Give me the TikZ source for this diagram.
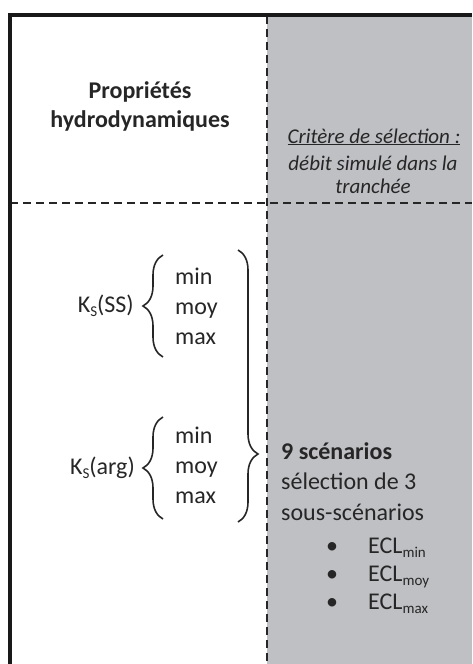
\documentclass[tikz,border=0pt]{standalone}
\usepackage{fontspec}
\setmainfont{Carlito}
\usetikzlibrary{decorations.pathreplacing}
\definecolor{panelgray}{HTML}{BFC0C4}
\definecolor{ink}{HTML}{262626}
\newcommand\mysub[1]{\raisebox{-0.35ex}{\fontsize{15}{15}\selectfont #1}}
\begin{document}
\begin{tikzpicture}[x=1pt,y=-1pt,
  txt/.style={inner sep=0pt, text=ink, font=\fontsize{24}{29}\selectfont},
  ital/.style={inner sep=0pt, text=ink, font=\fontsize{21}{26}\selectfont\itshape},
  bracestyle/.style={draw=ink, line width=1.6pt, decorate},
  dashline/.style={draw=ink, line width=2pt, dash pattern=on 8pt off 5pt},
  frame/.style={draw=black!90, line width=4pt}]
\useasboundingbox (0,0) rectangle (472,664);
\fill[panelgray] (267,14) rectangle (472,664);
% dashed dividers
\draw[dashline] (10,202.5) -- (472,202.5);
\draw[dashline] (267,16) -- (267,664);
% frame
\draw[frame] (10,664) -- (10,14.5) -- (472,14.5);
% header
\node[txt, anchor=base, font=\fontsize{24}{29}\selectfont\bfseries] (t1) at (140,98) {Propriétés};
\node[txt, anchor=base, font=\fontsize{24}{29}\selectfont\bfseries] (t2) at (140,127) {hydrodynamiques};
\node[ital, anchor=base] (c1) at (374,143) {\underline{Critère de sélection :}};
\node[ital, anchor=base] (c2) at (373,170) {débit simulé dans la};
\node[ital, anchor=base] (c3) at (373,193) {tranchée};
% group 1
\node[txt, anchor=base east] (k1) at (134,312) {K\mysub{S}(SS)};
\node[txt, anchor=base west] (a1) at (175,284) {min};
\node[txt, anchor=base west] (a2) at (175,314) {moy};
\node[txt, anchor=base west] (a3) at (175,344) {max};
\coordinate (b1s) at (163,357);
\coordinate (b1e) at (163,255);
\draw[bracestyle, decoration={brace, amplitude=20pt}] (b1s) -- (b1e);
% group 2
\node[txt, anchor=base east] (k2) at (135,474) {K\mysub{S}(arg)};
\node[txt, anchor=base west] (d1) at (175,443) {min};
\node[txt, anchor=base west] (d2) at (175,473) {moy};
\node[txt, anchor=base west] (d3) at (175,503) {max};
\coordinate (b2s) at (163,519);
\coordinate (b2e) at (163,417);
\draw[bracestyle, decoration={brace, amplitude=20pt}] (b2s) -- (b2e);
% big brace
\coordinate (b3s) at (238,250);
\coordinate (b3e) at (238,522);
\draw[bracestyle, decoration={brace, amplitude=20pt, aspect=0.75}] (b3s) -- (b3e);
% right text
\node[txt, anchor=base west, font=\fontsize{24}{29}\selectfont\bfseries] (s1) at (281,459) {9 scénarios};
\node[txt, anchor=base west] (s2) at (281,489) {sélection de 3};
\node[txt, anchor=base west] (s3) at (281,520) {sous-scénarios};
\node[txt, anchor=base] (p1) at (332,553) {•};
\node[txt, anchor=base] (p2) at (332,581) {•};
\node[txt, anchor=base] (p3) at (332,609) {•};
\node[txt, anchor=base west] (e1) at (368,553) {ECL\mysub{min}};
\node[txt, anchor=base west] (e2) at (368,581) {ECL\mysub{moy}};
\node[txt, anchor=base west] (e3) at (368,609) {ECL\mysub{max}};
\end{tikzpicture}
\end{document}
